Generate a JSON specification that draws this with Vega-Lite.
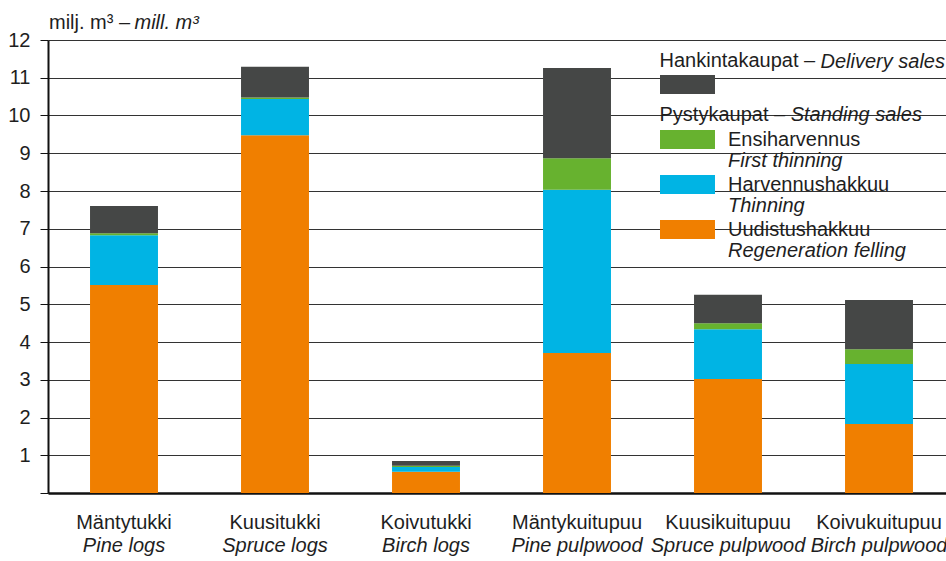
{
  "$schema": "https://vega.github.io/schema/vega-lite/v6.json",
  "autosize": {"type": "none"},
  "padding": {"left": 48, "top": 40, "right": 0, "bottom": 68},
  "width": 898,
  "height": 453,
  "background": "white",
  "config": {
    "font": "Liberation Sans",
    "view": {"stroke": null},
    "axis": {"labelFont": "Liberation Sans", "titleFont": "Liberation Sans", "labelColor": "#1e1e1e", "titleColor": "#1e1e1e", "titleFontWeight": "normal"},
    "legend": {"labelFont": "Liberation Sans", "titleFont": "Liberation Sans", "labelColor": "#1e1e1e", "titleColor": "#1e1e1e", "titleFontWeight": "normal", "padding": 0}
  },
  "data": {
    "values": [
      {"category": "Mäntytukki", "category_en": "Pine logs", "seq": 1, "type_fi": "Uudistushakkuu", "type_en": "Regeneration felling", "value": 5.51},
      {"category": "Mäntytukki", "category_en": "Pine logs", "seq": 2, "type_fi": "Harvennushakkuu", "type_en": "Thinning", "value": 1.32},
      {"category": "Mäntytukki", "category_en": "Pine logs", "seq": 3, "type_fi": "Ensiharvennus", "type_en": "First thinning", "value": 0.05},
      {"category": "Mäntytukki", "category_en": "Pine logs", "seq": 4, "type_fi": "Hankintakaupat", "type_en": "Delivery sales", "value": 0.72},
      {"category": "Kuusitukki", "category_en": "Spruce logs", "seq": 1, "type_fi": "Uudistushakkuu", "type_en": "Regeneration felling", "value": 9.48},
      {"category": "Kuusitukki", "category_en": "Spruce logs", "seq": 2, "type_fi": "Harvennushakkuu", "type_en": "Thinning", "value": 0.96},
      {"category": "Kuusitukki", "category_en": "Spruce logs", "seq": 3, "type_fi": "Ensiharvennus", "type_en": "First thinning", "value": 0.04},
      {"category": "Kuusitukki", "category_en": "Spruce logs", "seq": 4, "type_fi": "Hankintakaupat", "type_en": "Delivery sales", "value": 0.81},
      {"category": "Koivutukki", "category_en": "Birch logs", "seq": 1, "type_fi": "Uudistushakkuu", "type_en": "Regeneration felling", "value": 0.56},
      {"category": "Koivutukki", "category_en": "Birch logs", "seq": 2, "type_fi": "Harvennushakkuu", "type_en": "Thinning", "value": 0.13},
      {"category": "Koivutukki", "category_en": "Birch logs", "seq": 3, "type_fi": "Ensiharvennus", "type_en": "First thinning", "value": 0.03},
      {"category": "Koivutukki", "category_en": "Birch logs", "seq": 4, "type_fi": "Hankintakaupat", "type_en": "Delivery sales", "value": 0.13},
      {"category": "Mäntykuitupuu", "category_en": "Pine pulpwood", "seq": 1, "type_fi": "Uudistushakkuu", "type_en": "Regeneration felling", "value": 3.71},
      {"category": "Mäntykuitupuu", "category_en": "Pine pulpwood", "seq": 2, "type_fi": "Harvennushakkuu", "type_en": "Thinning", "value": 4.32},
      {"category": "Mäntykuitupuu", "category_en": "Pine pulpwood", "seq": 3, "type_fi": "Ensiharvennus", "type_en": "First thinning", "value": 0.84},
      {"category": "Mäntykuitupuu", "category_en": "Pine pulpwood", "seq": 4, "type_fi": "Hankintakaupat", "type_en": "Delivery sales", "value": 2.39},
      {"category": "Kuusikuitupuu", "category_en": "Spruce pulpwood", "seq": 1, "type_fi": "Uudistushakkuu", "type_en": "Regeneration felling", "value": 3.02},
      {"category": "Kuusikuitupuu", "category_en": "Spruce pulpwood", "seq": 2, "type_fi": "Harvennushakkuu", "type_en": "Thinning", "value": 1.32},
      {"category": "Kuusikuitupuu", "category_en": "Spruce pulpwood", "seq": 3, "type_fi": "Ensiharvennus", "type_en": "First thinning", "value": 0.16},
      {"category": "Kuusikuitupuu", "category_en": "Spruce pulpwood", "seq": 4, "type_fi": "Hankintakaupat", "type_en": "Delivery sales", "value": 0.75},
      {"category": "Koivukuitupuu", "category_en": "Birch pulpwood", "seq": 1, "type_fi": "Uudistushakkuu", "type_en": "Regeneration felling", "value": 1.83},
      {"category": "Koivukuitupuu", "category_en": "Birch pulpwood", "seq": 2, "type_fi": "Harvennushakkuu", "type_en": "Thinning", "value": 1.59},
      {"category": "Koivukuitupuu", "category_en": "Birch pulpwood", "seq": 3, "type_fi": "Ensiharvennus", "type_en": "First thinning", "value": 0.39},
      {"category": "Koivukuitupuu", "category_en": "Birch pulpwood", "seq": 4, "type_fi": "Hankintakaupat", "type_en": "Delivery sales", "value": 1.30}
    ]
  },
  "transform": [
    {"stack": "value", "groupby": ["category"], "sort": [{"field": "seq", "order": "ascending"}], "as": ["y0", "y1"]}
  ],
  "encoding": {
    "y": {
      "field": "y0", "type": "quantitative",
      "scale": {"domain": [0, 12], "nice": false, "zero": true},
      "axis": {
        "title": "milj. m³ –", "titleAngle": 0, "titleAlign": "left", "titleBaseline": "alphabetic",
        "titleX": 0.5, "titleY": -12, "titleFontSize": 20,
        "values": [0, 1, 2, 3, 4, 5, 6, 7, 8, 9, 10, 11, 12],
        "labelExpr": "datum.value == 0 ? '' : datum.label",
        "labelFontSize": 20, "labelPadding": 10,
        "tickSize": 8, "tickColor": "#111111", "tickWidth": 1,
        "domainColor": "#111111", "domainWidth": 2,
        "grid": true, "gridColor": "#333333", "gridWidth": 1
      }
    },
    "y2": {"field": "y1"}
  },
  "layer": [
    {
      "transform": [{"filter": "datum.type_fi != 'Hankintakaupat'"}],
      "mark": {"type": "bar"},
      "encoding": {
        "x": {
          "field": "category", "type": "nominal", "sort": null,
          "scale": {"paddingInner": 0.55, "paddingOuter": 0.2485, "align": 0.56},
          "axis": {
            "orient": "bottom",
            "title": "Delivery sales", "titleFontStyle": "italic", "titleFontSize": 20,
            "titleAlign": "left", "titleBaseline": "alphabetic", "titleAnchor": "start",
            "titleX": 772, "titleY": -426,
            "labelAngle": 0, "labelFontSize": 20, "labelBaseline": "alphabetic", "labelPadding": 35,
            "ticks": false, "domainColor": "#111111", "domainWidth": 2.5, "grid": false, "labelLimit": 200
          }
        },
        "color": {
          "field": "type_fi", "type": "nominal",
          "scale": {"domain": ["Ensiharvennus", "Harvennushakkuu", "Uudistushakkuu"], "range": ["#67b22f", "#00b4e4", "#f07f00"]},
          "legend": {
            "orient": "none", "legendX": 611.5, "legendY": 64.5, "direction": "vertical",
            "title": "Pystykaupat –", "titleFontSize": 20, "titlePadding": 5,
            "labelFontSize": 20, "labelOffset": 48.5, "labelLimit": 300,
            "symbolType": "M-1,-1H4.789V1H-1Z", "symbolSize": 361, "symbolStrokeWidth": 0,
            "rowPadding": 25, "zindex": 2
          }
        },
        "opacity": {
          "field": "type_en", "type": "nominal",
          "scale": {"type": "point", "domain": ["First thinning", "Thinning", "Regeneration felling"], "range": [1, 1]},
          "legend": {
            "orient": "none", "legendX": 742.7, "legendY": 64.5, "direction": "vertical",
            "title": "Standing sales", "titleFontStyle": "italic", "titleFontSize": 20, "titlePadding": 26,
            "labelFontSize": 20, "labelFontStyle": "italic", "labelOffset": -82.7, "labelLimit": 300,
            "symbolSize": 0, "symbolStrokeWidth": 0,
            "rowPadding": 25, "zindex": 2
          }
        }
      }
    },
    {
      "transform": [{"filter": "datum.type_fi == 'Hankintakaupat'"}],
      "mark": {"type": "bar"},
      "encoding": {
        "x": {
          "field": "category_en", "type": "nominal", "sort": null,
          "scale": {"paddingInner": 0.55, "paddingOuter": 0.2485, "align": 0.56},
          "axis": {
            "orient": "bottom",
            "title": "mill. m³", "titleFontStyle": "italic", "titleFontSize": 20,
            "titleAlign": "left", "titleBaseline": "alphabetic", "titleAnchor": "start",
            "titleX": 86, "titleY": -465,
            "labelAngle": 0, "labelFontSize": 20, "labelFontStyle": "italic", "labelBaseline": "alphabetic", "labelPadding": 58,
            "ticks": false, "domain": false, "grid": false, "labelLimit": 200
          }
        },
        "fill": {
          "field": "type_fi", "type": "nominal",
          "scale": {"domain": ["Hankintakaupat"], "range": ["#454746"]},
          "legend": {
            "orient": "none", "legendX": 611.5, "legendY": 11, "direction": "vertical",
            "title": "Hankintakaupat –", "titleFontSize": 20, "titlePadding": 3.5, "titleLimit": 300,
            "labelFontSize": 20, "labelExpr": "''",
            "symbolType": "M-1,-1H4.789V1H-1Z", "symbolSize": 361, "symbolStrokeWidth": 0,
            "zindex": 2
          }
        },
        "strokeOpacity": {
          "field": "category", "type": "nominal",
          "scale": {"type": "point", "range": [1, 1]},
          "legend": {
            "orient": "none", "legendX": 602, "legendY": 2, "direction": "vertical",
            "title": null, "values": ["Mäntytukki"], "labelExpr": "''", "labelFontSize": 1,
            "symbolType": "M-1,-1H1.577V1H-1Z", "symbolSize": 49284, "symbolStrokeWidth": 0,
            "symbolFillColor": "white", "symbolOpacity": 1, "zindex": 1
          }
        }
      }
    }
  ],
  "resolve": {"scale": {"x": "independent"}, "axis": {"x": "independent"}}
}
